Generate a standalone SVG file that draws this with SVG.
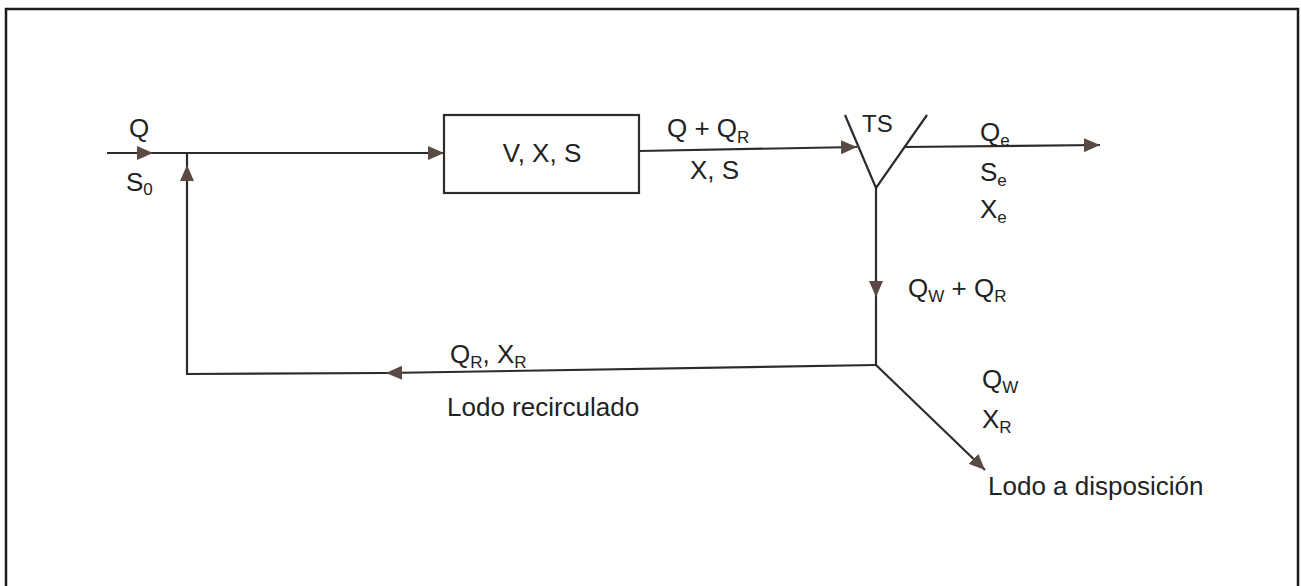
<svg xmlns="http://www.w3.org/2000/svg" width="1301" height="586" viewBox="0 0 1301 586">
<style>
.ln{fill:none;stroke:#2e2b29;stroke-width:2.2}
.ar{fill:none;stroke:#2e2b29;stroke-width:2.2;marker-end:url(#ah)}
text{font-family:"Liberation Sans",Arial,sans-serif;font-size:26px;fill:#222}
.sub{font-size:17px}
</style>
<defs>
<marker id="ah" viewBox="0 0 16 14" refX="16" refY="7" markerWidth="16" markerHeight="14" markerUnits="userSpaceOnUse" orient="auto">
<path d="M0,0 L16,7 L0,14 z" fill="#5a4a43"/>
</marker>
</defs>
<rect x="0" y="0" width="1301" height="586" fill="#fff"/>
<rect x="6" y="9" width="1292" height="600" fill="none" stroke="#1e1c18" stroke-width="2.5"/>
<g id="connectors">
<path class="ar" d="M107,153 L153,153"/>
<path class="ar" d="M153,153 L444,153"/>
<path class="ar" d="M639,151 L857,147"/>
<path class="ar" d="M904,147 L1100,145"/>
<path class="ar" d="M876,188 L876,297"/>
<path class="ln" d="M876,297 L876,365"/>
<path class="ar" d="M876,365 L386,373"/>
<path class="ar" d="M386,373 L187,374 L187,165"/>
<path class="ln" d="M187,165 L187,153"/>
<path class="ar" d="M876,365 L985,470"/>
</g>
<g id="reactor">
<rect class="ln" x="444" y="115" width="195" height="78"/>
<text x="542" y="162" text-anchor="middle">V, X, S</text>
</g>
<g id="settler">
<path class="ln" d="M845,115 L876,188 L927,115"/>
<text x="862" y="132" style="font-size:24px">TS</text>
</g>
<g id="labels">
<text x="129" y="137">Q</text>
<text x="126" y="191">S<tspan class="sub" dy="4">0</tspan></text>
<text x="667" y="137">Q + Q<tspan class="sub" dy="6">R</tspan></text>
<text x="690" y="179">X, S</text>
<text x="980" y="141">Q<tspan class="sub" dy="5">e</tspan></text>
<text x="980" y="181">S<tspan class="sub" dy="5">e</tspan></text>
<text x="980" y="218">X<tspan class="sub" dy="5">e</tspan></text>
<text x="908" y="297">Q<tspan class="sub" dy="5">W</tspan><tspan dy="-5"> + Q</tspan><tspan class="sub" dy="5">R</tspan></text>
<text x="450" y="363">Q<tspan class="sub" dy="5">R</tspan><tspan dy="-5">, X</tspan><tspan class="sub" dy="5">R</tspan></text>
<text x="447" y="416">Lodo recirculado</text>
<text x="982" y="388">Q<tspan class="sub" dy="5">W</tspan></text>
<text x="982" y="428">X<tspan class="sub" dy="5">R</tspan></text>
<text x="988" y="495">Lodo a disposición</text>
</g>
</svg>
